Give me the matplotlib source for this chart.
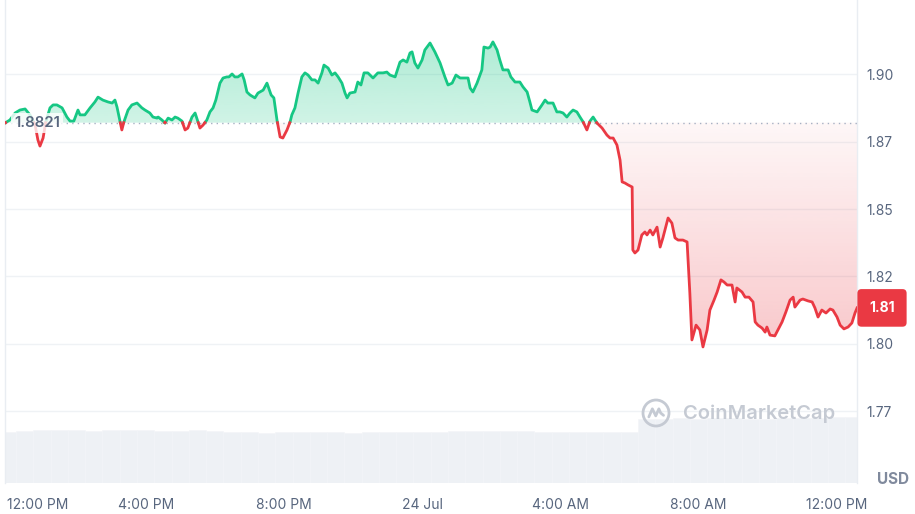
import numpy as np
import matplotlib
matplotlib.use("Agg")
import matplotlib.pyplot as plt
import matplotlib.colors as mcolors
from matplotlib.patches import PathPatch, Circle
from matplotlib.path import Path
from matplotlib.transforms import IdentityTransform

plt.rcParams['font.family'] = ['Inter', 'DejaVu Sans']

# ---------------- data ----------------
hours = [-0.07, 0.07, 0.22, 0.36, 0.51, 0.65, 0.80, 0.88, 0.94, 1.03, 1.11, 1.23, 1.32, 1.43, 1.58,
         1.72, 1.81, 1.92, 2.04, 2.10, 2.24, 2.39, 2.53, 2.62, 2.76, 2.91, 3.03, 3.11, 3.17, 3.26,
         3.31, 3.37, 3.49, 3.60, 3.75, 3.89, 3.98, 4.12, 4.21, 4.33, 4.36, 4.47, 4.56, 4.65, 4.76,
         4.85, 4.93, 5.05, 5.14, 5.22, 5.34, 5.43, 5.48, 5.57, 5.66, 5.77, 5.86, 5.95, 6.03, 6.15,
         6.24, 6.35, 6.41, 6.50, 6.58, 6.67, 6.79, 6.85, 6.93, 7.02, 7.16, 7.25, 7.40, 7.51, 7.63,
         7.71, 7.80, 7.89, 7.97, 8.09, 8.18, 8.23, 8.32, 8.41, 8.52, 8.61, 8.70, 8.81, 8.90, 8.99,
         9.10, 9.16, 9.28, 9.39, 9.48, 9.57, 9.68, 9.77, 9.83, 9.91, 10.06, 10.14, 10.23, 10.32,
         10.43, 10.58, 10.72, 10.87, 10.98, 11.07, 11.22, 11.36, 11.45, 11.56, 11.65, 11.71, 11.79,
         11.88, 12.00, 12.08, 12.23, 12.37, 12.52, 12.66, 12.75, 12.87, 12.98, 13.10, 13.24, 13.33,
         13.39, 13.47, 13.59, 13.73, 13.79, 13.91, 13.97, 14.05, 14.17, 14.25, 14.34, 14.49, 14.57,
         14.69, 14.83, 14.92, 15.04, 15.12, 15.18, 15.33, 15.47, 15.56, 15.64, 15.79, 15.90, 15.99,
         16.08, 16.19, 16.28, 16.37, 16.48, 16.57, 16.66, 16.77, 16.86, 16.95, 17.06, 17.21, 17.35,
         17.44, 17.53, 17.64, 17.73, 17.79, 17.87, 17.96, 18.08, 18.10, 18.16, 18.25, 18.36, 18.45,
         18.51, 18.60, 18.68, 18.80, 18.89, 18.97, 19.12, 19.23, 19.32, 19.41, 19.55, 19.67, 19.75,
         19.81, 19.93, 20.04, 20.13, 20.25, 20.33, 20.45, 20.54, 20.65, 20.74, 20.83, 20.97, 21.06,
         21.11, 21.26, 21.35, 21.46, 21.58, 21.64, 21.72, 21.84, 21.93, 21.98, 22.07, 22.21, 22.30,
         22.42, 22.53, 22.65, 22.74, 22.79, 22.94, 23.02, 23.17, 23.29, 23.37, 23.46, 23.57, 23.69,
         23.81, 23.89, 24.01, 24.10, 24.21, 24.33, 24.44, 24.53, 24.59]

price = [1.8820, 1.8831, 1.8857, 1.8868, 1.8872, 1.8850, 1.8812, 1.8757, 1.8734, 1.8764, 1.8824,
         1.8876, 1.8887, 1.8887, 1.8876, 1.8842, 1.8827, 1.8827, 1.8868, 1.8850, 1.8850, 1.8876,
         1.8898, 1.8916, 1.8905, 1.8898, 1.8894, 1.8905, 1.8879, 1.8824, 1.8794, 1.8824, 1.8868,
         1.8887, 1.8894, 1.8876, 1.8868, 1.8857, 1.8842, 1.8838, 1.8842, 1.8831, 1.8820, 1.8838,
         1.8831, 1.8842, 1.8838, 1.8827, 1.8794, 1.8801, 1.8842, 1.8857, 1.8838, 1.8801, 1.8812,
         1.8831, 1.8861, 1.8876, 1.8905, 1.8968, 1.8987, 1.8991, 1.8991, 1.9002, 1.8991, 1.8991,
         1.9002, 1.8980, 1.8935, 1.8924, 1.8913, 1.8931, 1.8942, 1.8968, 1.8924, 1.8913, 1.8831,
         1.8768, 1.8764, 1.8794, 1.8824, 1.8850, 1.8876, 1.8931, 1.8991, 1.9006, 1.8998, 1.8980,
         1.8980, 1.8968, 1.9006, 1.9035, 1.9024, 1.8998, 1.9006, 1.8991, 1.8968, 1.8931, 1.8913,
         1.8931, 1.8935, 1.8972, 1.8961, 1.9006, 1.9006, 1.8987, 1.9006, 1.9006, 1.9009, 1.8998,
         1.8991, 1.9046, 1.9054, 1.9046, 1.9080, 1.9084, 1.9043, 1.9024, 1.9054, 1.9091, 1.9117,
         1.9084, 1.9043, 1.8991, 1.8961, 1.8968, 1.8998, 1.8987, 1.8987, 1.8987, 1.8950, 1.8935,
         1.8968, 1.9017, 1.9102, 1.9098, 1.9102, 1.9121, 1.9091, 1.9054, 1.9017, 1.9017, 1.8991,
         1.8972, 1.8972, 1.8954, 1.8935, 1.8898, 1.8868, 1.8861, 1.8887, 1.8905, 1.8894, 1.8894,
         1.8861, 1.8861, 1.8857, 1.8842, 1.8857, 1.8868, 1.8861, 1.8842, 1.8824, 1.8794, 1.8827,
         1.8842, 1.8820, 1.8801, 1.8775, 1.8764, 1.8764, 1.8738, 1.8682, 1.8601, 1.8597, 1.8590,
         1.8582, 1.8348, 1.8337, 1.8348, 1.8404, 1.8415, 1.8404, 1.8422, 1.8404, 1.8433, 1.8359,
         1.8393, 1.8467, 1.8448, 1.8393, 1.8385, 1.8385, 1.8378, 1.8188, 1.8014, 1.8069, 1.8051,
         1.7988, 1.8051, 1.8125, 1.8162, 1.8192, 1.8237, 1.8229, 1.8218, 1.8218, 1.8155, 1.8207,
         1.8192, 1.8173, 1.8173, 1.8155, 1.8081, 1.8069, 1.8058, 1.8043, 1.8062, 1.8032, 1.8029,
         1.8051, 1.8081, 1.8118, 1.8162, 1.8173, 1.8136, 1.8162, 1.8166, 1.8159, 1.8155, 1.8133,
         1.8099, 1.8125, 1.8114, 1.8129, 1.8125, 1.8099, 1.8069, 1.8055, 1.8062, 1.8077, 1.8114,
         1.8133]

base_price = 1.8821

vol_hours = np.arange(0.0, 25.0, 0.5)
volume = [5.1, 5.2, 5.3,
          5.3, 5.3, 5.2, 5.3, 5.3, 5.3, 5.2, 5.2, 5.3, 5.2,
          5.1, 5.1, 5.0, 5.1, 5.1, 5.1, 5.1, 5.0, 5.1, 5.1, 5.1, 5.1,
          5.1, 5.2, 5.2, 5.2, 5.2, 5.2, 5.1, 5.1, 5.1, 5.1, 5.1, 5.1,
          6.4, 6.4, 6.5, 6.4, 6.5, 6.5, 6.4, 6.4, 6.5, 6.5, 6.5, 6.6, 6.6]

y_ticks = [1.775, 1.80, 1.825, 1.85, 1.875, 1.90]
y_labels = ['1.77', '1.80', '1.82', '1.85', '1.87', '1.90']
x_ticks = [0, 4, 8, 12, 16, 20, 24]
x_labels = ['12:00 PM', '4:00 PM', '8:00 PM', '24 Jul', '4:00 AM', '8:00 AM', '12:00 PM']

GREEN = '#16c784'
RED = '#ea3943'
TXT = '#58667e'
GRID = '#eff2f5'

W, H = 915, 514
fig = plt.figure(figsize=(W / 100, H / 100), dpi=100)
rect = [5 / W, 31 / H, 852 / W, 483 / H]
xlim = (-0.072, 24.588)
ylim = (1.74826, 1.92767)

# volume axes (behind)
vax = fig.add_axes(rect, zorder=1)
vax.bar(vol_hours, volume, width=0.5, color='#eef1f5', edgecolor='#f3f5f8', linewidth=0.4)
vax.set_xlim(xlim)
vax.set_ylim(0, 48.3)
vax.axis('off')

ax = fig.add_axes(rect, zorder=2)
ax.patch.set_visible(False)

t = np.array(hours)
p = np.array(price)
tt, pp = [t[0]], [p[0]]
for i in range(1, len(t)):
    a, b = p[i - 1] - base_price, p[i] - base_price
    if a * b < 0:
        tc = t[i - 1] + (t[i] - t[i - 1]) * a / (a - b)
        tt.append(tc)
        pp.append(base_price)
    tt.append(t[i])
    pp.append(p[i])
tt = np.array(tt)
pp = np.array(pp)


def grad_fill(where, color, a_low, a_high, y_low, y_high):
    coll = ax.fill_between(tt, pp, base_price, where=where, interpolate=True,
                           facecolor='none', edgecolor='none')
    paths = coll.get_paths()
    if not paths:
        return
    cp = Path.make_compound_path(*paths)
    patch = PathPatch(cp, transform=ax.transData, facecolor='none', edgecolor='none')
    ax.add_patch(patch)
    rgb = mcolors.to_rgb(color)
    n = 256
    img = np.zeros((n, 1, 4))
    img[:, 0, :3] = rgb
    img[:, 0, 3] = np.linspace(a_low, a_high, n)
    im = ax.imshow(img, extent=[tt.min(), tt.max(), y_low, y_high], origin='lower',
                   aspect='auto', zorder=1, interpolation='bilinear')
    im.set_clip_path(patch)


grad_fill(pp >= base_price, GREEN, 0.2, 0.34, base_price, pp.max())
grad_fill(pp <= base_price, RED, 0.28, 0.04, pp.min(), base_price)

green = np.where(pp >= base_price, pp, np.nan)
red = np.where(pp <= base_price, pp, np.nan)
ax.plot(tt, green, color=GREEN, lw=2.0, zorder=4, solid_joinstyle='round')
ax.plot(tt, red, color=RED, lw=2.0, zorder=4, solid_joinstyle='round')

ax.axhline(base_price, color='#a6b0c3', lw=1.0, ls=(0, (1, 3)), zorder=3)

for yv in y_ticks:
    ax.axhline(yv, color=GRID, lw=1.0, zorder=0)

ax.set_xlim(xlim)
ax.set_ylim(ylim)

for s in ['top', 'bottom']:
    ax.spines[s].set_visible(False)
for s in ['left', 'right']:
    ax.spines[s].set_color('#e9edf2')
    ax.spines[s].set_linewidth(1.0)

ax.yaxis.tick_right()
ax.set_yticks(y_ticks)
ax.set_yticklabels(y_labels)
ax.tick_params(axis='y', length=0, pad=7, labelsize=10, labelcolor=TXT)
ax.set_xticks(x_ticks)
ax.set_xticklabels(x_labels)
ax.tick_params(axis='x', length=0, pad=11, labelsize=10, labelcolor=TXT)
ax.get_xticklabels()[0].set_horizontalalignment('left')

# baseline label
ax.text(9 / 852, base_price, '1.8821', transform=ax.get_yaxis_transform(),
        ha='left', va='center', fontsize=10.8, color=TXT, fontweight='semibold', zorder=6,
        bbox=dict(boxstyle='square,pad=0.2', fc='white', ec='none', alpha=0.8))

# last price badge
ax.annotate('%.2f' % price[-1], xy=(1, price[-1]), xycoords=('axes fraction', 'data'),
            xytext=(18, 0), textcoords='offset points', ha='center', va='center',
            fontsize=10, color='white', fontweight='bold', zorder=10, annotation_clip=False,
            bbox=dict(boxstyle='round,pad=0.85,rounding_size=0.3', fc=RED, ec='none'))

# USD label
fig.text(893 / W, 1 - 479 / H, 'USD', ha='center', va='center', fontsize=11,
         fontweight='bold', color='#808a9d')

# watermark
wm = '#c5cad3'
fig.text(683 / W, 1 - 414 / H, 'CoinMarketCap', ha='left', va='center', fontsize=14.5,
         color=wm, fontweight='semibold', zorder=20)
cx, cy, r = 656, H - 413, 13
fig.add_artist(Circle((cx, cy), r, transform=IdentityTransform(), fill=False,
                      ec=wm, lw=2.0, zorder=20))
wave = [(-0.55, -0.3), (-0.28, 0.32), (-0.02, -0.22), (0.22, 0.32), (0.36, 0.0), (0.58, -0.18)]
verts = [(cx + r * u, cy + r * v) for u, v in wave]
fig.add_artist(PathPatch(Path(verts), transform=IdentityTransform(), fill=False,
                         ec=wm, lw=2.0, zorder=20, joinstyle='round', capstyle='round'))

fig.savefig('out.png', dpi=100)
